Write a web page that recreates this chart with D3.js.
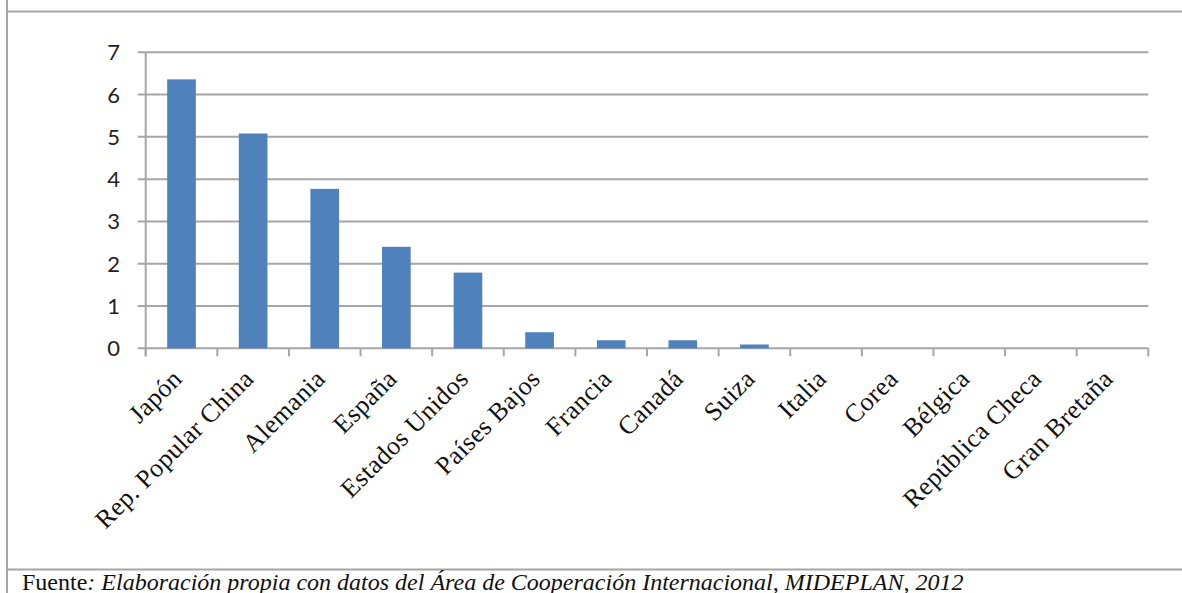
<!DOCTYPE html>
<html>
<head>
<meta charset="utf-8">
<script src="https://cdn.jsdelivr.net/npm/d3@7"></script>
<style>
  html, body { margin: 0; padding: 0; background: #fff; }
  svg { display: block; }
</style>
</head>
<body>
<svg id="chart" width="1182" height="593"></svg>
<script>
// Cooperation received by donor country
const countries = ["Japón", "Rep. Popular China", "Alemania", "España", "Estados Unidos",
  "Países Bajos", "Francia", "Canadá", "Suiza", "Italia", "Corea", "Bélgica",
  "República Checa", "Gran Bretaña"];
const amounts = [6.36, 5.08, 3.77, 2.40, 1.79, 0.38, 0.19, 0.19, 0.09, 0, 0, 0, 0, 0];
const yTicks = [0, 1, 2, 3, 4, 5, 6, 7];
const sourceLabel = "Fuente";
const sourceText = ": Elaboración propia con datos del Área de Cooperación Internacional, MIDEPLAN, 2012";

const svg = d3.select("#chart");
const W = 1182, H = 593;
const lineColor = "#a6a6a6";

// frame lines
svg.append("line").attr("x1", 7).attr("x2", 7).attr("y1", 0).attr("y2", H)
  .attr("stroke", lineColor).attr("stroke-width", 2);
svg.append("line").attr("x1", 7).attr("x2", W).attr("y1", 11.5).attr("y2", 11.5)
  .attr("stroke", lineColor).attr("stroke-width", 2);
svg.append("line").attr("x1", 7).attr("x2", W).attr("y1", 569.5).attr("y2", 569.5)
  .attr("stroke", lineColor).attr("stroke-width", 2);

const plot = { left: 145.7, right: 1148.3, top: 52.3, bottom: 348.3 };

const x = d3.scaleBand().domain(countries).range([plot.left, plot.right]).paddingInner(0.6).paddingOuter(0.3);
const xTick = d3.scaleBand().domain(countries).range([plot.left, plot.right]);
const y = d3.scaleLinear().domain([0, 7]).range([plot.bottom, plot.top]);

// horizontal gridlines
svg.append("g").selectAll("line").data(yTicks).join("line")
  .attr("x1", plot.left - 8).attr("x2", plot.right)
  .attr("y1", d => y(d)).attr("y2", d => y(d))
  .attr("stroke", lineColor).attr("stroke-width", 2);

// y axis line
svg.append("line").attr("x1", plot.left).attr("x2", plot.left)
  .attr("y1", plot.top).attr("y2", plot.bottom + 8)
  .attr("stroke", lineColor).attr("stroke-width", 2);

// x tick marks at band boundaries
const bounds = countries.map(c => xTick(c)).concat([plot.right]);
svg.append("g").selectAll("line").data(bounds).join("line")
  .attr("x1", d => d).attr("x2", d => d)
  .attr("y1", plot.bottom).attr("y2", plot.bottom + 8)
  .attr("stroke", lineColor).attr("stroke-width", 2);

// y tick labels
svg.append("g").selectAll("text").data(yTicks).join("text")
  .attr("x", 120).attr("y", d => y(d))
  .attr("dy", "0.36em")
  .attr("text-anchor", "end")
  .attr("font-family", "Lato, 'Open Sans', sans-serif")
  .attr("font-size", 22)
  .attr("fill", "#222")
  .text(d => d);

// bars
svg.append("g").selectAll("rect").data(countries).join("rect")
  .attr("x", d => x(d))
  .attr("width", x.bandwidth())
  .attr("y", (d, i) => y(amounts[i]))
  .attr("height", (d, i) => y(0) - y(amounts[i]))
  .attr("fill", "#4f81bd");

// rotated category labels
svg.append("g").selectAll("text").data(countries).join("text")
  .attr("transform", d => `translate(${xTick(d) + xTick.bandwidth() / 2 + 2},${plot.bottom + 32}) rotate(-45)`)
  .attr("text-anchor", "end")
  .attr("font-family", "'Liberation Serif', 'Times New Roman', serif")
  .attr("font-size", 26)
  .attr("letter-spacing", 0.4)
  .attr("fill", "#111")
  .text(d => d);

// source note
const note = svg.append("text")
  .attr("x", 22).attr("y", 590)
  .attr("font-family", "'Liberation Serif', serif")
  .attr("font-size", 24)
  .attr("fill", "#111");
note.append("tspan").text(sourceLabel);
note.append("tspan").attr("font-style", "italic").text(sourceText);
</script>
</body>
</html>
